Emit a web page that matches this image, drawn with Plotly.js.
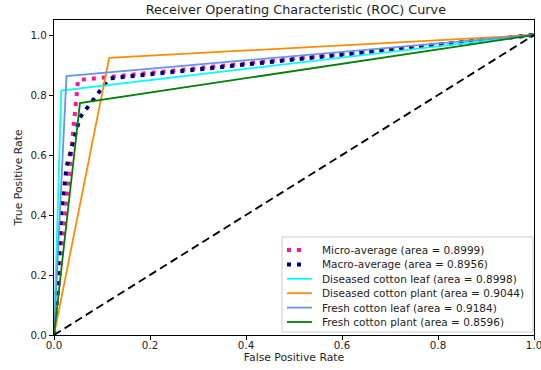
<!DOCTYPE html>
<html>
<head>
<meta charset="utf-8">
<script src="https://cdn.plot.ly/plotly-3.0.1.min.js"></script>
<style>
  html, body { margin: 0; padding: 0; background: #ffffff; }
  #chart { width: 541px; height: 370px; }
</style>
</head>
<body>
<div id="chart"></div>
<script>
// ROC curve points (false positive rate / true positive rate)
const microFpr = [0, 0.05, 1];
const microTpr = [0, 0.85, 1];

const macroFpr = [0, 0.015, 0.026, 0.054, 0.115, 1];
const macroTpr = [0, 0.40, 0.56, 0.725, 0.855, 1];

const classNames = ['Diseased cotton leaf', 'Diseased cotton plant', 'Fresh cotton leaf', 'Fresh cotton plant'];
const classFpr = [
  [0, 0.015, 1],
  [0, 0.115, 1],
  [0, 0.026, 1],
  [0, 0.054, 1]
];
const classTpr = [
  [0, 0.815, 1],
  [0, 0.924, 1],
  [0, 0.863, 1],
  [0, 0.773, 1]
];
const classAuc = [0.8998, 0.9044, 0.9184, 0.8596];
const microAuc = 0.8999;
const macroAuc = 0.8956;

const xTicks = [0, 0.2, 0.4, 0.6, 0.8, 1.0];
const yTicks = [0, 0.2, 0.4, 0.6, 0.8, 1.0];

const classColors = ['#00FFFF', '#FF8C00', '#6495ED', '#008000'];
const font = 'DejaVu Sans, Liberation Sans, sans-serif';
const ink = '#1e1e1e';
const dotted = '4px,6px';

const label = (name, auc) => name + ' (area = ' + auc.toFixed(4) + ')';

// every curve with its legend text and line style
const series = [
  { x: microFpr, y: microTpr, text: label('Micro-average', microAuc), line: { color: '#FF1493', width: 4, dash: dotted } },
  { x: macroFpr, y: macroTpr, text: label('Macro-average', macroAuc), line: { color: '#000080', width: 4, dash: dotted } }
];
classNames.forEach((n, i) => {
  series.push({ x: classFpr[i], y: classTpr[i], text: label(n, classAuc[i]), line: { color: classColors[i], width: 1.8 } });
});

const traces = series.map(s => ({ x: s.x, y: s.y, mode: 'lines', name: s.text, line: s.line, showlegend: false }));
// chance diagonal
traces.push({
  x: [0, 1], y: [0, 1], mode: 'lines', showlegend: false, hoverinfo: 'skip',
  line: { color: '#000000', width: 1.8, dash: '8px,4.5px' }
});

// legend box (lower right), laid out in pixels of the plot area
const W = 541, H = 370, M = { l: 54, r: 7, t: 20, b: 35 };
const pw = W - M.l - M.r, ph = H - M.t - M.b;
const px = v => (v - M.l) / pw;          // pixel x -> paper x
const py = v => (H - M.b - v) / ph;      // pixel y -> paper y

const shapes = [{
  type: 'rect', xref: 'paper', yref: 'paper', layer: 'above',
  x0: px(282), x1: px(533), y0: py(332), y1: py(237),
  line: { color: '#cccccc', width: 1 }, fillcolor: 'rgba(255,255,255,0.85)'
}];
const annotations = [];
const rowTop = 250, rowGap = 14.4;
series.forEach((s, i) => {
  const yy = py(rowTop + i * rowGap);
  const isDot = s.line.dash === dotted;
  shapes.push({
    type: 'line', xref: 'paper', yref: 'paper', layer: 'above',
    x0: px(287), x1: px(isDot ? 306 : 312), y0: yy, y1: yy,
    line: { color: s.line.color, width: s.line.width, dash: s.line.dash || 'solid' }
  });
  annotations.push({
    xref: 'paper', yref: 'paper', x: px(320), y: yy, xanchor: 'left', yanchor: 'middle',
    text: s.text, showarrow: false, font: { family: font, size: 10.5, color: ink }
  });
});

const axisCommon = {
  showgrid: false, zeroline: false, showline: true, mirror: true,
  linecolor: '#000000', linewidth: 1,
  ticks: 'outside', ticklen: 4, tickwidth: 1, tickcolor: '#000000',
  tickformat: '.1f', tickfont: { family: font, size: 10.3, color: ink },
  ticklabeloverflow: 'allow', automargin: false
};

const layout = {
  width: W, height: H,
  margin: M,
  paper_bgcolor: '#ffffff', plot_bgcolor: '#ffffff',
  font: { family: font, size: 10, color: ink },
  title: {
    text: 'Receiver Operating Characteristic (ROC) Curve',
    font: { family: font, size: 12.8, color: ink },
    x: 0.547, xanchor: 'center', y: 0.973, yanchor: 'middle'
  },
  xaxis: Object.assign({}, axisCommon, {
    range: [0, 1], tickvals: xTicks, ticklabelstandoff: -3,
    title: { text: 'False Positive Rate', font: { family: font, size: 10.8, color: ink }, standoff: 3 }
  }),
  yaxis: Object.assign({}, axisCommon, {
    range: [0, 1.05], tickvals: yTicks,
    title: { text: 'True Positive Rate', font: { family: font, size: 10.8, color: ink }, standoff: 5 }
  }),
  shapes: shapes,
  annotations: annotations,
  showlegend: false
};

Plotly.newPlot('chart', traces, layout, { displayModeBar: false, staticPlot: true });
</script>
</body>
</html>
